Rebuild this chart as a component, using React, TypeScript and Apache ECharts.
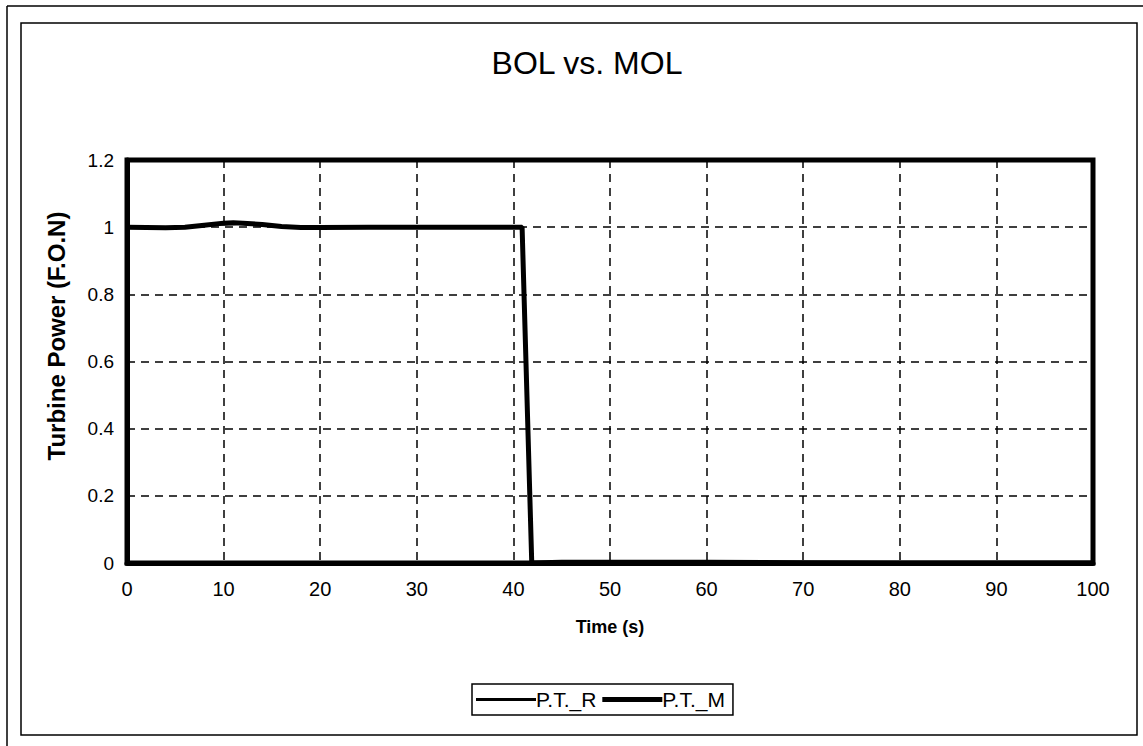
import React, { useEffect, useRef } from "react";
import * as echarts from "echarts";

// Time axis (s)
const timeR: number[] = [0, 2, 4, 6, 8, 10, 12, 14, 16, 18, 20, 25, 30, 35, 40, 40.9, 41.9, 45, 50, 60, 70, 80, 90, 100];
// Turbine power, fraction of nominal
const powerR: number[] = [1.0, 1.0, 0.999, 1.0, 1.004, 1.009, 1.011, 1.008, 1.003, 1.0, 1.0, 1.0, 1.0, 1.0, 1.0, 1.0, 0.0, 0.001, 0.001, 0.001, 0.0, 0.0, 0.0, 0.0];

const timeM: number[] = [0, 2, 4, 6, 8, 10, 11, 12, 14, 16, 18, 20, 25, 30, 35, 40, 40.9, 41.9, 45, 50, 60, 70, 80, 90, 100];
const powerM: number[] = [1.0, 0.999, 0.998, 1.0, 1.006, 1.012, 1.013, 1.012, 1.008, 1.002, 0.999, 0.999, 1.0, 1.0, 1.0, 1.0, 1.0, 0.0, 0.002, 0.002, 0.002, 0.001, 0.0, 0.0, 0.0];

const xTicks = { min: 0, max: 100, interval: 10 };
const yTicks = { min: 0, max: 1.2, interval: 0.2 };

const FONT = "'Liberation Sans', Arial, sans-serif";

// Legend keys: plain line samples (thin / thick) inside a 60x10 box
const ICON_THIN = "path://M0,0M0,10M0,3.5L60,3.5L60,6.5L0,6.5Z";
const ICON_THICK = "path://M0,0M0,10M0,2.5L60,2.5L60,7.5L0,7.5Z";

export default function App() {
  const ref = useRef<HTMLDivElement>(null);

  useEffect(() => {
    if (!ref.current) return;
    const chart = echarts.init(ref.current, undefined, { renderer: "svg" });

    const pairs = (xs: number[], ys: number[]) => xs.map((x, i) => [x, ys[i]]);

    chart.setOption({
      animation: false,
      backgroundColor: "#ffffff",
      textStyle: { fontFamily: FONT, color: "#000" },
      title: {
        text: "BOL vs. MOL",
        left: 582,
        textAlign: "center",
        top: 42,
        textStyle: { fontFamily: FONT, fontSize: 32, fontWeight: "normal", color: "#000" },
      },
      grid: {
        left: 127,
        right: 50,
        top: 160,
        bottom: 183,
        show: true,
        borderColor: "#000",
        borderWidth: 5,
        backgroundColor: "transparent",
      },
      legend: {
        left: 472,
        top: 684,
        orient: "horizontal",
        itemWidth: 60,
        itemHeight: 10,
        itemGap: 6,
        padding: [5, 8, 5, 4],
        borderColor: "#000",
        borderWidth: 1.5,
        textStyle: { fontFamily: FONT, fontSize: 21, color: "#000", padding: [0, 0, 0, -5] },
        data: [
          { name: "P.T._R", icon: ICON_THIN },
          { name: "P.T._M", icon: ICON_THICK },
        ],
      },
      xAxis: {
        type: "value",
        min: xTicks.min,
        max: xTicks.max,
        interval: xTicks.interval,
        name: "Time (s)",
        nameLocation: "middle",
        nameGap: 55,
        nameTextStyle: { fontFamily: FONT, fontSize: 18, fontWeight: "bold", color: "#000" },
        axisLine: { show: true, lineStyle: { color: "#000", width: 5 } },
        axisTick: { show: false },
        axisLabel: { fontFamily: FONT, fontSize: 20, color: "#000", margin: 16 },
        splitLine: { show: true, lineStyle: { color: "#000", width: 1.5, type: [8, 6] } },
      },
      yAxis: {
        type: "value",
        min: yTicks.min,
        max: yTicks.max,
        interval: yTicks.interval,
        axisLine: { show: true, lineStyle: { color: "#000", width: 5 } },
        axisTick: { show: false },
        axisLabel: { fontFamily: FONT, fontSize: 19, color: "#000", margin: 13 },
        splitLine: { show: true, lineStyle: { color: "#000", width: 1.5, type: [8, 6] } },
      },
      graphic: [
        // outer sheet edges
        { type: "line", shape: { x1: 7, y1: 6, x2: 1143, y2: 6 }, style: { stroke: "#000", lineWidth: 1.5 } },
        { type: "line", shape: { x1: 7, y1: 6, x2: 7, y2: 746 }, style: { stroke: "#000", lineWidth: 1.5 } },
        // chart area frame
        { type: "rect", shape: { x: 21, y: 23, width: 1116, height: 712 }, style: { fill: "none", stroke: "#000", lineWidth: 1.5 } },
        // y axis title
        {
          type: "text",
          x: 56,
          y: 336,
          rotation: Math.PI / 2,
          style: {
            text: "Turbine Power (F.O.N)",
            fontFamily: FONT,
            fontSize: 24,
            fontWeight: "bold",
            fill: "#000",
            align: "center",
            verticalAlign: "middle",
          },
        },
      ],
      series: [
        {
          name: "P.T._R",
          type: "line",
          data: pairs(timeR, powerR),
          symbol: "none",
          lineStyle: { color: "#000", width: 2.5 },
          itemStyle: { color: "#000" },
          z: 3,
        },
        {
          name: "P.T._M",
          type: "line",
          data: pairs(timeM, powerM),
          symbol: "none",
          lineStyle: { color: "#000", width: 5 },
          itemStyle: { color: "#000" },
          z: 4,
        },
      ],
    });

    return () => chart.dispose();
  }, []);

  return (
    <div
      ref={ref}
      style={{ position: "fixed", left: 0, top: 0, width: 1143, height: 746, background: "#fff" }}
    />
  );
}
